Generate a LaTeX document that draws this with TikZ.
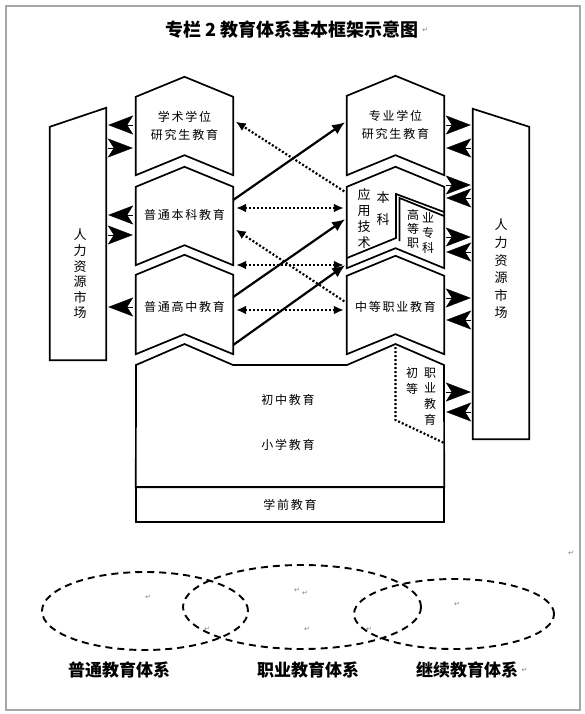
\documentclass[tikz,border=0pt]{standalone}
\usepackage{fontspec}
\setmainfont{Noto Sans CJK SC}
\newfontfamily\boxfont[LetterSpace=15]{Noto Sans CJK SC}
\newfontfamily\markfont{DejaVu Sans}
\usetikzlibrary{arrows.meta,calc}

\tikzset{
  chevbox/.style={minimum width=97pt, minimum height=78pt, inner sep=0pt},
  chevline/.style={line width=1.7pt, line join=miter},
  boxtext/.style={font=\boxfont\fontsize{12}{18}\selectfont, align=center, inner sep=0pt},
  vtext/.style={font=\fontsize{13}{15.6}\selectfont, align=center, inner sep=0pt},
  bighead/.style={-{Stealth[length=25pt,width=19pt,inset=6pt]}},
  dotline/.style={line width=2.2pt, dash pattern=on 2pt off 2pt},
  dotarrow/.style={dotline, >={Latex[length=10pt,width=9pt]}, shorten <=3pt, shorten >=3pt},
  solidarrow/.style={line width=2.2pt, >={Latex[length=13pt,width=11pt]}, shorten >=2pt},
  sysring/.style={line width=1.9pt, dash pattern=on 7pt off 5pt},
  syslabel/.style={font=\bfseries\fontsize{17}{17}\selectfont},
  pmark/.style={font=\markfont\fontsize{7}{7}\selectfont, text=gray, inner sep=0pt}
}

% chevron outline round an empty box node
\newcommand\chevshape[1]{%
  \draw[chevline] (#1.north west) -- ($(#1.north)+(0,-20)$) -- (#1.north east)
    -- (#1.south east) -- ($(#1.south)+(0,-20)$) -- (#1.south west) -- cycle;}

\begin{document}
\begin{tikzpicture}[x=1pt, y=-1pt]
    \useasboundingbox (0,0) rectangle (584,714);
    \draw[gray!70, line width=1.5pt] (6,6) rectangle (580,710);

    \node[font=\bfseries\fontsize{18}{18}\selectfont] (title) at (292,30) {专栏 2 教育体系基本框架示意图};
    \node[pmark, anchor=west] (tmark) at (title.east) {↵};

    % labour markets
    \node[minimum width=56pt, minimum height=252pt, inner sep=0pt] (lm) at (78,234) {};
    \draw[chevline] (lm.south west) -- ($(lm.north west)+(0,19)$) -- (lm.north east) -- (lm.south east) -- cycle;
    \node[vtext] (lmt) at (80,274) {人\\力\\资\\源\\市\\场};

    \node[minimum width=56pt, minimum height=330pt, inner sep=0pt] (rm) at (501,274) {};
    \draw[chevline] (rm.south west) -- (rm.north west) -- ($(rm.north east)+(0,18)$) -- (rm.south east) -- cycle;
    \node[vtext, font=\fontsize{13}{17.6}\selectfont] (rmt) at (501,269) {人\\力\\资\\源\\市\\场};

    % chevrons
    \node[chevbox] (xs) at (184.5,136) {};
    \node[chevbox] (bk) at (184.5,226) {};
    \node[chevbox, minimum height=79pt] (gz) at (184.5,314.5) {};
    \node[chevbox, minimum height=79pt] (zy) at (395.5,135.5) {};
    \node[chevbox, minimum height=81pt] (yy) at (395.5,227.5) {};
    \node[chevbox] (zd) at (395.5,315) {};
    \foreach \n in {xs,bk,gz,zy,yy,zd} {\chevshape{\n}}

    \node[boxtext] (xst) at (184.5,126) {学术学位\\研究生教育};
    \node[boxtext] (bkt) at (184.5,215) {普通本科教育};
    \node[boxtext] (gzt) at (184.5,307) {普通高中教育};
    \node[boxtext] (zyt) at (395.5,125) {专业学位\\研究生教育};
    \node[boxtext] (zdt) at (395.5,307) {中等职业教育};

    % applied bachelor / higher vocational split
    \draw[chevline] (347,258) -- (396,238) -- (396,194) -- (444,212);
    \draw[chevline] (399.5,241) -- (399.5,198) -- (444,216);
    \node[vtext, font=\fontsize{13}{16}\selectfont] (yyt) at (364,219) {应\\用\\技\\术};
    \node[vtext, font=\fontsize{13}{22}\selectfont] (bkk) at (383,209) {本\\科};
    \node[vtext, font=\fontsize{12}{14}\selectfont] (gzh) at (413,229) {高\\等\\职};
    \node[vtext, font=\fontsize{12}{15}\selectfont] (zkt) at (428,233) {业\\专\\科};

    % compulsory and pre-school
    \node[minimum width=308pt, minimum height=122pt, inner sep=0pt] (jc) at (290,426) {};
    \draw[chevline] (jc.south west) -- (136,365) -- (184.5,344) -- (233,365) -- (347,365)
        -- (395.5,344) -- (444,365) -- (jc.south east) -- cycle;
    \node[draw, line width=1.7pt, minimum width=308pt, minimum height=35pt, inner sep=0pt,
        font=\boxfont\fontsize{12}{12}\selectfont] (xq) at (290,504.5) {学前教育};
    \node[boxtext] (czt) at (288,400) {初中教育};
    \node[boxtext] (xxt) at (288,445) {小学教育};
    \draw[dotline] (395.5,347) -- (395.5,420) -- (jc.east |- 0,443);
    \node[vtext, font=\fontsize{12}{16}\selectfont] (cdt) at (412,381) {初\\等};
    \node[vtext, font=\fontsize{12}{15.7}\selectfont] (zjt) at (430,396.5) {职\\业\\教\\育};

    % market arrowheads, left
    \draw[bighead, shorten <=3pt, shorten >=2pt] (xs.west |- 0,125) -- (lm.east |- 0,125);
    \draw[bighead, shorten <=2pt, shorten >=3pt] (lm.east |- 0,148) -- (xs.west |- 0,148);
    \draw[bighead, shorten <=3pt, shorten >=2pt] (bk.west |- 0,215) -- (lm.east |- 0,215);
    \draw[bighead, shorten <=2pt, shorten >=3pt] (lm.east |- 0,235) -- (bk.west |- 0,235);
    \draw[bighead, shorten <=3pt, shorten >=2pt] (gz.west |- 0,307) -- (lm.east |- 0,307);

    % market arrowheads, right
    \foreach \a/\b/\src in {125/148/zy, 185/198/yy, 237/252/yy, 298/320/zd, 392/412/jc} {
        \draw[bighead, shorten <=2pt, shorten >=2pt] (\src.east |- 0,\a) -- (rm.west |- 0,\a);
        \draw[bighead, shorten <=2pt, shorten >=2pt] (rm.west |- 0,\b) -- (\src.east |- 0,\b);
    }

    % transfers
    \draw[dotarrow, ->] (yy.west |- 0,193) -- (xs.east |- 0,120);
    \draw[dotarrow, <->] (bk.east |- 0,208) -- (yy.west |- 0,208);
    \draw[dotarrow, ->] (zd.west |- 0,303) -- (bk.east |- 0,228);
    \draw[dotarrow, <->] (bk.east |- 0,265) -- (yy.west |- 0,265);
    \draw[dotarrow, <->] (gz.east |- 0,310) -- (zd.west |- 0,310);

    \draw[solidarrow, ->] (bk.east |- 0,200) -- (zy.west |- 0,121);
    \draw[solidarrow, ->] (gz.east |- 0,297) -- (yy.west |- 0,218);
    \draw[solidarrow, ->] (gz.east |- 0,345) -- (yy.west |- 0,264);

    % three systems
    \draw[sysring] (145,611) ellipse [x radius=103pt, y radius=39pt];
    \draw[sysring] (302,607) ellipse [x radius=119pt, y radius=42pt];
    \draw[sysring] (454,614) ellipse [x radius=100pt, y radius=35pt];
    \node[syslabel] (ptl) at (119,670) {普通教育体系};
    \node[syslabel] (zyl) at (308,670) {职业教育体系};
    \node[syslabel] (jxl) at (467,670) {继续教育体系};
    \node[pmark, anchor=west] (jmark) at (jxl.east) {↵};

    \foreach \x/\y [count=\i] in {148/597, 207/629, 297/590, 305/593, 307/629, 369/629, 457/604, 571/553}
        \node[pmark] (pm\i) at (\x,\y) {↵};
\end{tikzpicture}
\end{document}
